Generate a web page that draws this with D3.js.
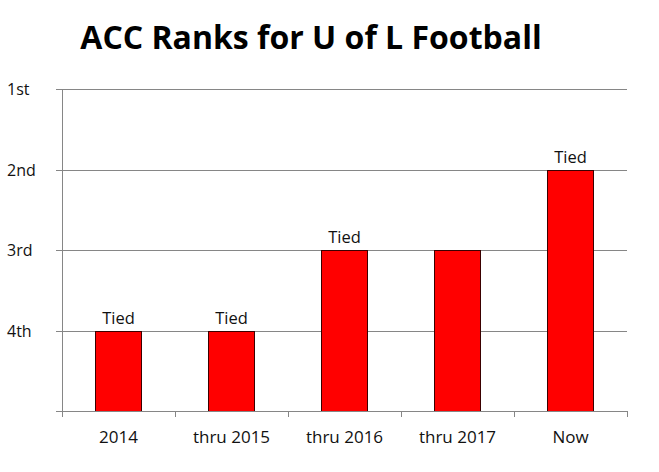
<!DOCTYPE html>
<html>
<head>
<meta charset="utf-8">
<script src="https://cdn.jsdelivr.net/npm/d3@7"></script>
<style>
  body { margin: 0; background: #fff; }
  text { font-family: "Open Sans", sans-serif; fill: #111; }
</style>
</head>
<body>
<div id="chart"></div>
<script>
// chart data
const categories = ["2014", "thru 2015", "thru 2016", "thru 2017", "Now"];
const ranks = [4, 4, 3, 3, 2];
const tied = [true, true, true, false, true];
const rankTicks = [1, 2, 3, 4, 5];
const rankLabels = ["1st", "2nd", "3rd", "4th", ""];

const width = 659;
const height = 472;

const svg = d3
  .select("#chart")
  .append("svg")
  .attr("width", width)
  .attr("height", height);

const x = d3.scaleBand().domain(categories).range([62, 627]).paddingInner(0).paddingOuter(0);
const y = d3.scaleLinear().domain([5, 1]).range([411, 89]);

// title
svg
  .append("text")
  .attr("x", 311)
  .attr("y", 49)
  .attr("text-anchor", "middle")
  .attr("font-weight", "bold")
  .attr("font-size", 32)
  .style("fill", "#000")
  .text("ACC Ranks for U of L Football");

// gridlines
svg
  .append("g")
  .selectAll("line")
  .data(rankTicks.slice(0, 4))
  .join("line")
  .attr("x1", 56)
  .attr("x2", 627)
  .attr("y1", (d) => Math.round(y(d)) + 0.5)
  .attr("y2", (d) => Math.round(y(d)) + 0.5)
  .attr("stroke", "#868686");

// y labels
svg
  .append("g")
  .selectAll("text")
  .data(rankTicks)
  .join("text")
  .attr("x", 7)
  .attr("y", (d) => y(d) + 6)
  .attr("font-size", 16)
  .text((d, i) => rankLabels[i]);

// bars
svg
  .append("g")
  .selectAll("rect")
  .data(ranks)
  .join("rect")
  .attr("x", (d, i) => x(categories[i]) + x.bandwidth() / 2 - 23)
  .attr("width", 46)
  .attr("y", (d) => Math.round(y(d)) + 0.5)
  .attr("height", (d) => y(5) - Math.round(y(d)))
  .attr("fill", "#ff0000")
  .attr("stroke", "#3a0000")
  .attr("stroke-width", 1);

// tied labels
svg
  .append("g")
  .selectAll("text")
  .data(ranks)
  .join("text")
  .attr("x", (d, i) => x(categories[i]) + x.bandwidth() / 2)
  .attr("y", (d) => y(d) - 7)
  .attr("text-anchor", "middle")
  .attr("font-size", 16.5)
  .text((d, i) => (tied[i] ? "Tied" : ""));

// y axis line and baseline
const axis = svg.append("g").attr("stroke", "#868686");
axis
  .append("line")
  .attr("x1", 62.5)
  .attr("x2", 62.5)
  .attr("y1", y(1))
  .attr("y2", y(5) + 6);
axis
  .selectAll(".yt")
  .data([5])
  .join("line")
  .attr("x1", 56)
  .attr("x2", 627)
  .attr("y1", (d) => Math.round(y(d)) + 0.5)
  .attr("y2", (d) => Math.round(y(d)) + 0.5);

// x ticks at category boundaries
axis
  .selectAll(".xt")
  .data(categories.slice(1).concat(["end"]))
  .join("line")
  .attr("x1", (d, i) => Math.round(62 + x.step() * (i + 1)) + 0.5)
  .attr("x2", (d, i) => Math.round(62 + x.step() * (i + 1)) + 0.5)
  .attr("y1", y(5))
  .attr("y2", y(5) + 6);

// category labels
svg
  .append("g")
  .selectAll("text")
  .data(categories)
  .join("text")
  .attr("x", (d) => x(d) + x.bandwidth() / 2)
  .attr("y", 443)
  .attr("text-anchor", "middle")
  .attr("font-size", 17)
  .text((d) => d);
</script>
</body>
</html>
